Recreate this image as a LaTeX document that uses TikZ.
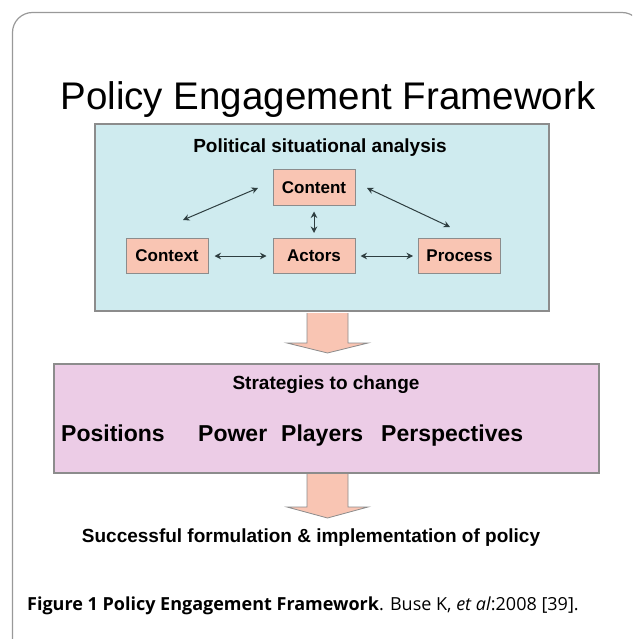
\documentclass[tikz,border=0pt]{standalone}
\usepackage{fontspec}
\setmainfont{Liberation Sans}
\newfontfamily\capfont{Open Sans}
\usetikzlibrary{arrows.meta}
\definecolor{bluebg}{HTML}{CFEBEF}
\definecolor{pinkbg}{HTML}{ECCCE6}
\definecolor{salmon}{HTML}{F9C5B3}
\definecolor{edgegray}{HTML}{8C8C8C}
\definecolor{arrowdark}{HTML}{2E3E40}
\tikzset{
  panel/.style={draw=edgegray, line width=1.2pt},
  actorbox/.style={draw=edgegray, line width=1pt, fill=salmon, minimum width=82pt, minimum height=35pt, inner sep=0pt, font=\fontsize{17}{20}\selectfont\bfseries},
  link/.style={draw=arrowdark, line width=1pt, {Stealth[length=6.5pt,width=6.5pt]}-{Stealth[length=6.5pt,width=6.5pt]}},
  blockarrow/.style={draw=edgegray, line width=0.8pt, fill=salmon},
  txt/.style={inner sep=0pt, text=black}
}
\begin{document}
\begin{tikzpicture}[x=1pt,y=-1pt]
\useasboundingbox (0,0) rectangle (632,639);
\clip (0,0) rectangle (632,639);
\fill[white] (0,0) rectangle (632,639);
% outer frame
\draw[draw=gray!80, line width=1.2pt, rounded corners=20pt] (12.5,660) -- (12.5,12.5) -- (642,12.5) -- (642,660);
% title
\node[txt, anchor=base, font=\fontsize{38.5}{44}\selectfont] (title) at (328,110) {Policy Engagement Framework};
% blue panel
\draw[panel, fill=bluebg] (95,124) rectangle (549,311);
\node[txt, anchor=base, font=\fontsize{19}{22}\selectfont\bfseries] (psa) at (320,153) {Political situational analysis};
\node[actorbox] (content) at (314,187.5) {Content};
\node[actorbox] (context) at (167,256) {Context};
\node[actorbox] (actors) at (314,256) {Actors};
\node[actorbox] (process) at (459.5,256) {Process};
\coordinate (c1) at (258,188);
\coordinate (c2) at (183,220);
\coordinate (p1) at (367,188);
\coordinate (p2) at (450,227);
\draw[link] (c1) -- (c2);
\draw[link] (p1) -- (p2);
\draw[link] ([yshift=-6pt]content.south) -- ([yshift=5pt]actors.north);
\draw[link] ([xshift=6pt]context.east) -- ([xshift=-6pt]actors.west);
\draw[link] ([xshift=5pt]actors.east) -- ([xshift=-5pt]process.west);
% arrow 1
\draw[blockarrow] (307,313) -- (307,343) -- (287,343) -- (327.5,353) -- (368,343) -- (348,343) -- (348,313);
% pink panel
\draw[panel, fill=pinkbg] (54,364) rectangle (599,473);
\node[txt, anchor=base, font=\fontsize{19}{22}\selectfont\bfseries] (stc) at (326,389) {Strategies to change};
\node[txt, anchor=base west, font=\fontsize{23}{27}\selectfont\bfseries] (pos) at (61,441) {Positions};
\node[txt, anchor=base west, font=\fontsize{23}{27}\selectfont\bfseries] (pow) at (198,441) {Power};
\node[txt, anchor=base west, font=\fontsize{23}{27}\selectfont\bfseries] (pla) at (281,441) {Players};
\node[txt, anchor=base west, font=\fontsize{23}{27}\selectfont\bfseries] (per) at (381,441) {Perspectives};
% arrow 2
\draw[blockarrow] (307,474) -- (307,507) -- (287,507) -- (327.5,518) -- (368,507) -- (348,507) -- (348,474);
\node[txt, anchor=base, font=\fontsize{19}{23}\selectfont\bfseries] (succ) at (311,542) {Successful formulation \& implementation of policy};
% caption
\node[txt, anchor=base west, font=\capfont\fontsize{18}{21}\selectfont] (cap) at (27,610) {\textbf{Figure 1 Policy Engagement Framework}. Buse K, \textit{et al}:2008 [39].};
\end{tikzpicture}
\end{document}
